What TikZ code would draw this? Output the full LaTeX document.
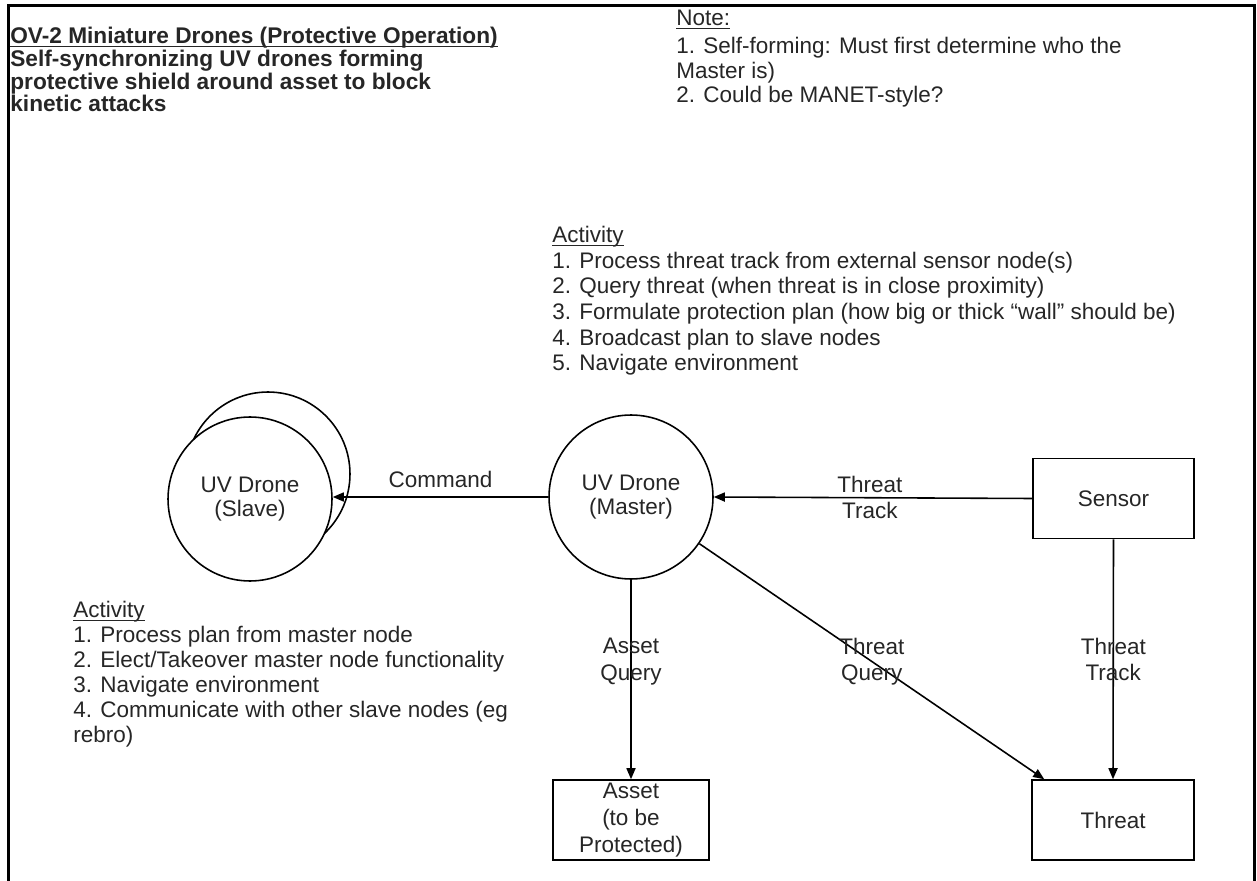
\documentclass[tikz,border=0pt]{standalone}
\usepackage{fontspec}
\setmainfont{Liberation Sans}
\usetikzlibrary{arrows.meta}

\newcommand{\ulabel}[1]{\underline{\raisebox{0pt}[\height][0pt]{#1}}}

\begin{document}
\begin{tikzpicture}[x=0.02cm,y=-0.02cm,
	every node/.style={text=black!85},
	drone/.style={circle,draw,line width=0.9pt,fill=white,minimum size=3.28cm,inner sep=0pt,align=center,font=\fontsize{12.8}{13.8}\selectfont},
	unit/.style={draw,line width=0.9pt,minimum height=1.6cm,inner sep=0pt,align=center,font=\fontsize{12.8}{15.4}\selectfont},
	flow/.style={-{Triangle[length=0.22cm,width=0.18cm]},line width=0.9pt},
	lbl/.style={align=center,inner sep=0pt,font=\fontsize{12.8}{15}\selectfont},
	notes/.style={anchor=north west,align=left,inner sep=0pt,font=\fontsize{12.8}{13.9}\selectfont}]
	\useasboundingbox (0,0) rectangle (1257,881);
	\draw[line width=1.5pt] (8.5,881) -- (8.5,5.5) -- (1254.5,5.5) -- (1254.5,881);

	% heading and notes
	\node[notes,font=\bfseries\fontsize{12.9}{12.9}\selectfont] (title) at (10,27) {\ulabel{OV-2 Miniature Drones (Protective Operation)}\\Self-synchronizing UV drones forming\\protective shield around asset to block\\kinetic attacks};
	\node[notes] (note) at (676,10) {\ulabel{Note:}\\[2pt]1. Self-forming: Must first determine who the\\Master is)\\2. Could be MANET-style?};
	\node[notes,font=\fontsize{12.8}{14.6}\selectfont] (actmaster) at (552,226) {\ulabel{Activity}\\1. Process threat track from external sensor node(s)\\2. Query threat (when threat is in close proximity)\\3. Formulate protection plan (how big or thick ``wall'' should be)\\4. Broadcast plan to slave nodes\\5. Navigate environment};
	\node[notes,font=\fontsize{12.8}{14.2}\selectfont] (actslave) at (73,601) {\ulabel{Activity}\\1. Process plan from master node\\2. Elect/Takeover master node functionality\\3. Navigate environment\\4. Communicate with other slave nodes (eg\\rebro)};

	% drones
	\node[drone] (slaveback) at (268,474) {};
	\node[drone] (slave) at (250,499) {UV Drone\\(Slave)};
	\node[drone] (master) at (631,497) {UV Drone\\(Master)};

	% boxes
	\node[unit,minimum width=3.22cm] (sensor) at (1113.5,498.5) {Sensor};
	\node[unit,minimum width=3.24cm] (threat) at (1113,820) {Threat};
	\node[unit,minimum width=3.12cm] (asset) at (631,820) {Asset\\(to be\\Protected)};
	\coordinate (hit) at ([xshift=0.26cm]threat.north west);

	% flows
	\draw[flow] (master.west) -- (master.west -| slave.east) node[lbl,midway,above=5pt] (cmd) {Command};
	\draw[flow] (sensor.west) -- (master.east) node[lbl,pos=0.51] (trk1) {Threat\\Track};
	\draw[flow] (sensor.south) -- (threat.north) node[lbl,pos=0.5] (trk2) {Threat\\Track};
	\draw[flow] (master.south) -- (asset.north) node[lbl,pos=0.41] (aq) {Asset\\Query};
	\draw[flow] (master) -- (hit) node[lbl,pos=0.5] (tq) {Threat\\Query};
\end{tikzpicture}
\end{document}
